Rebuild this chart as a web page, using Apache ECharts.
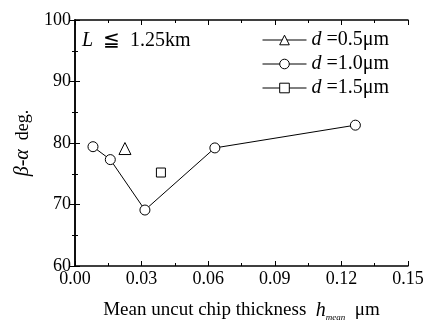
<!DOCTYPE html>
<html><head><meta charset="utf-8">
<script src="https://cdn.jsdelivr.net/npm/echarts@6/dist/echarts.min.js"></script>
<style>html,body{margin:0;padding:0;background:#fff}#c{width:438px;height:327px}</style>
</head><body><div id="c"></div>
<script>
const circleX = [0.0081, 0.0159, 0.0315, 0.063, 0.1263];
const circleY = [79.4, 77.3, 69.1, 79.2, 82.9];
const triX = [0.0225];
const triY = [79.1];
const sqX = [0.0387];
const sqY = [75.2];
const xTicks = ['0.00','0.03','0.06','0.09','0.12','0.15'];
const yTicks = ['60','70','80','90','100'];

const F = '"Liberation Serif", "Times New Roman", serif';
const chart = echarts.init(document.getElementById('c'), null, {renderer:'canvas'});
const zip = (a,b)=>a.map((v,i)=>[v,b[i]]);
const baseAxis = {
  axisLine:{show:true, lineStyle:{color:'#000', width:1.5}},
  axisTick:{show:true, inside:true, length:5, lineStyle:{color:'#000'}},
  minorTick:{show:true, splitNumber:2, length:3, lineStyle:{color:'#000'}},
  splitLine:{show:false}
};
const ser = (name, data, sym, size) => ({
  name, type:'line', data, symbol:sym, symbolSize:size, showSymbol:true,
  lineStyle:{color:'#000', width:1}, itemStyle:{color:'#fff', borderColor:'#000', borderWidth:1},
  z: 3, silent:true, animation:false
});
chart.setOption({
  animation:false,
  grid:{left:75, right:30, top:20, bottom:57},
  xAxis:[Object.assign({}, baseAxis, {
    type:'value', min:0, max:0.15, interval:0.03,
    axisLabel:{color:'#000', fontFamily:F, fontSize:18, margin:4,
      formatter:(v)=>{const i=Math.round(v/0.03); return xTicks[i]||'';}},
    name:'{n|Mean uncut chip thickness  }{i|h}{s|mean}{n|  μm}', nameLocation:'middle', nameGap:33,
    nameTextStyle:{rich:{
      n:{fontFamily:F, fontSize:19, color:'#000'},
      i:{fontFamily:F, fontSize:20, fontStyle:'italic', color:'#000'},
      s:{fontFamily:F, fontSize:9, fontStyle:'italic', color:'#000', verticalAlign:'bottom', padding:[14,0,0,0]}
    }}
  }), Object.assign({}, baseAxis, {
    type:'value', min:0, max:0.15, interval:0.03, position:'top', axisLabel:{show:false}
  })],
  yAxis:[Object.assign({}, baseAxis, {
    type:'value', min:60, max:100, interval:10,
    axisLabel:{color:'#000', fontFamily:F, fontSize:18, margin:4,
      formatter:(v)=>yTicks[Math.round((v-60)/10)]||''},
    name:'{i|β-α}{n|  deg.}', nameLocation:'middle', nameGap:40, nameRotate:90,
    nameTextStyle:{rich:{
      n:{fontFamily:F, fontSize:18, color:'#000'},
      i:{fontFamily:F, fontSize:20, fontStyle:'italic', color:'#000'}
    }}
  }), Object.assign({}, baseAxis, {
    type:'value', min:60, max:100, interval:10, position:'right', axisLabel:{show:false}
  })],
  legend:{
    left:262, top:30, padding:0, orient:'vertical', itemWidth:44, itemHeight:12, itemGap:4,
    lineStyle:{width:1, color:'#000'},
    itemStyle:{color:'#fff', borderColor:'#000', borderWidth:1},
    textStyle:{fontFamily:F, fontSize:20, color:'#000',
      rich:{i:{fontFamily:F, fontSize:20, fontStyle:'italic', color:'#000'}, n:{fontFamily:F, fontSize:20, color:'#000'}}},
    formatter:(name)=>'{i|d }{n|=' + name + 'μm}',
    data:['0.5','1.0','1.5']
  },
  graphic:[{
    type:'text', left:82, top:31,
    style:{rich:{i:{fontFamily:F, fontSize:20, fontStyle:'italic', fill:'#000'}, n:{fontFamily:F, fontSize:20, fill:'#000'}},
      text:'{i|L}{n|  ≦  1.25km}'}
  }],
  series:[
    ser('0.5', zip(triX,triY), 'triangle', 12),
    ser('1.0', zip(circleX,circleY), 'circle', 10),
    ser('1.5', zip(sqX,sqY), 'rect', 9)
  ]
});
</script></body></html>
